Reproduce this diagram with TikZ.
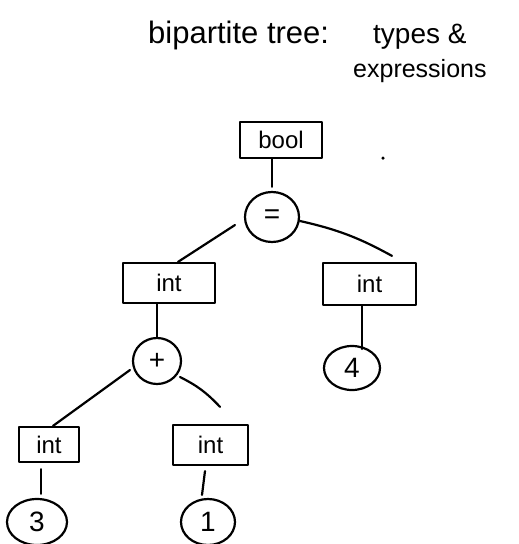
\documentclass[tikz,border=0pt]{standalone}
\usepackage{fontspec}
\setmainfont{Liberation Sans}
\usetikzlibrary{shapes.geometric,calc}
\begin{document}
\begin{tikzpicture}[x=1pt,y=-1pt,
  ink/.style={line width=2.2pt,line cap=round,line join=round},
  typebox/.style={draw,ink,rectangle,inner sep=0pt,font=\fontsize{24}{26}\selectfont},
  exprnode/.style={draw,ink,ellipse,inner sep=0pt,font=\fontsize{28}{30}\selectfont},
  edge/.style={ink},
  title/.style={anchor=base west,inner sep=0pt}]
\useasboundingbox (0,0) rectangle (519,544);
% title
\node[title,font=\fontsize{31}{33}\selectfont] (t1) at (148,43) {bipartite tree:};
\node[title,font=\fontsize{28}{30}\selectfont] (t2) at (373,43) {types \&};
\node[title,font=\fontsize{25}{27}\selectfont] (t3) at (353,77) {expressions};
% nodes
\node[typebox,minimum width=82pt,minimum height=36pt] (bool) at (281,140) {bool};
\node[exprnode,minimum width=54pt,minimum height=50pt] (eq) at (272,217) {=};
\node[typebox,minimum width=92pt,minimum height=40pt] (intL) at (169,283) {int};
\node[typebox,minimum width=93pt,minimum height=42pt] (intR) at (369.5,284) {int};
\node[exprnode,minimum width=48pt,minimum height=46pt] (plus) at (157,361) {+};
\node[exprnode,minimum width=56pt,minimum height=44pt] (four) at (352,368) {4};
\node[typebox,minimum width=60pt,minimum height=35pt] (intLL) at (49,444.5) {int};
\node[typebox,minimum width=75pt,minimum height=40pt] (intLR) at (210.5,445) {int};
\node[exprnode,minimum width=60pt,minimum height=46pt] (three) at (37,522) {3};
\node[exprnode,minimum width=54pt,minimum height=46pt] (one) at (208,522) {1};
\node[circle,fill,inner sep=0pt,minimum size=3.5pt] (dot) at (383,158) {};
% connectors
\draw[edge] (bool.south -| eq.north) -- ($(eq.north)+(0,-4)$);
\draw[edge] ($(eq.center)+(-37,8)$) -- ($(intL.north)+(9,0)$);
\draw[edge] ($(eq.center)+(28,4)$) to[bend left=8] ($(intR.north)+(22.5,-6)$);
\draw[edge] (intL.south -| plus.north) -- (plus.north);
\draw[edge] ($(intR.south)+(-7.5,0)$) -- ($(intR.south)+(-7.5,43)$);
\draw[edge] ($(plus.center)+(-27,9)$) -- ($(intLL.north)+(4,0)$);
\draw[edge] ($(plus.center)+(23,16)$) to[bend left=10] ($(intLR.north)+(9.5,-17)$);
\draw[edge] ($(intLL.south)+(-8,6)$) -- ($(three.north)+(4,-4)$);
\draw[edge] ($(intLR.south)+(-5.5,5)$) -- ($(one.north)+(-6,-3)$);
\end{tikzpicture}
\end{document}
